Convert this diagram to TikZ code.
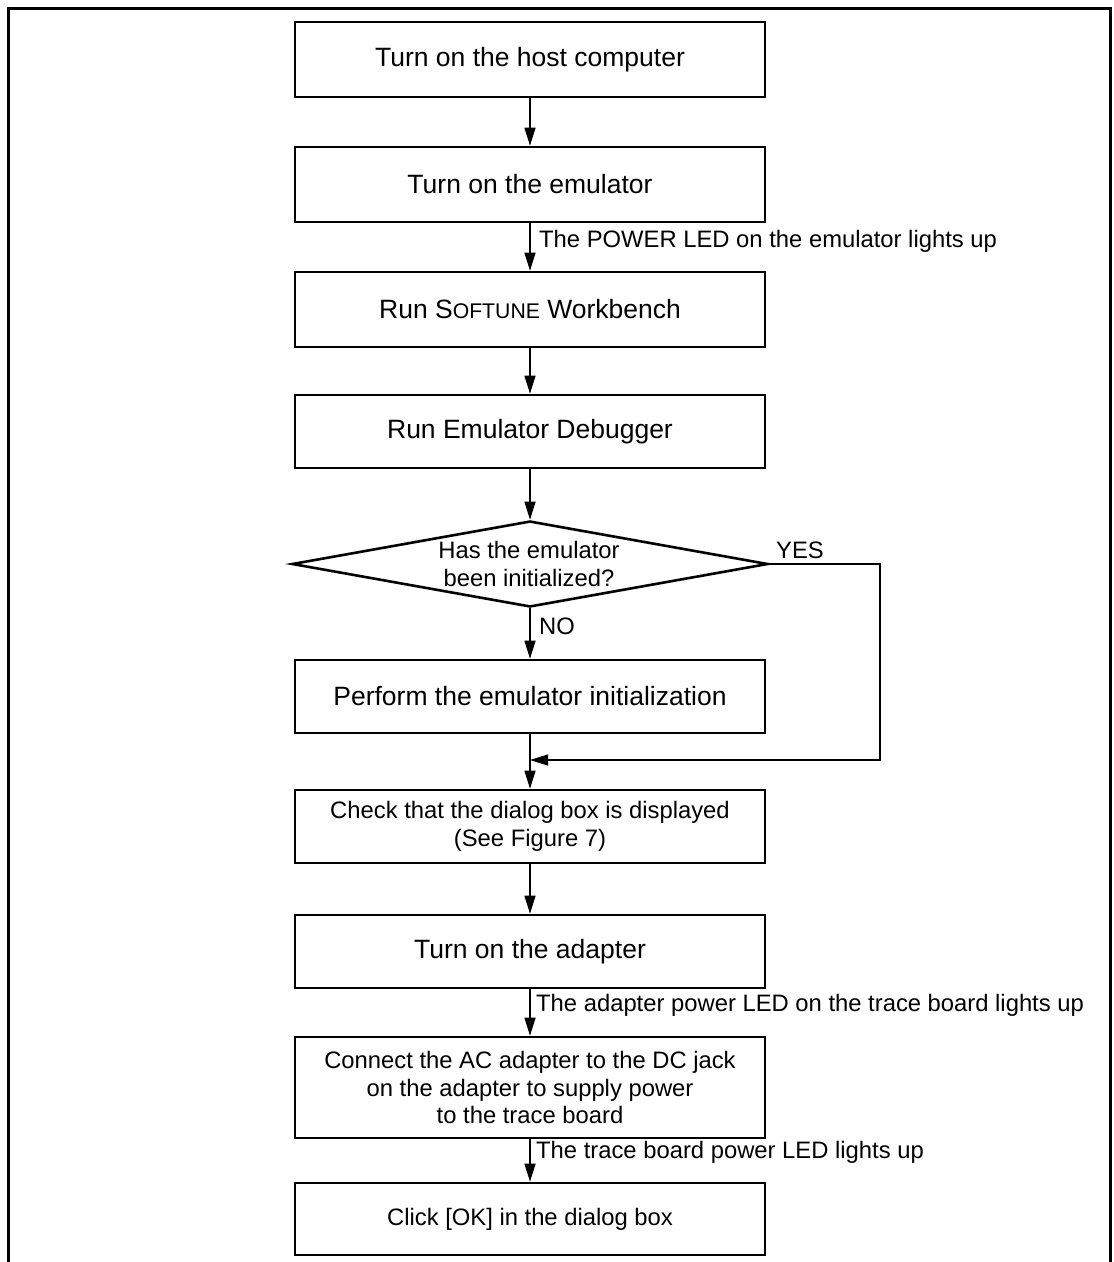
\documentclass[tikz,border=0pt]{standalone}
\usepackage{fontspec}
\setmainfont{Liberation Sans}
\usetikzlibrary{arrows.meta,shapes.geometric}
\newcommand{\myfs}{\fontsize{23.8}{27.5}\selectfont}
\newcommand{\mybigfs}{\fontsize{26.5}{30}\selectfont}
\begin{document}
\begin{tikzpicture}[x=1pt,y=-1pt,
  box/.style={draw,line width=2.6pt,minimum width=470pt,minimum height=75pt,inner sep=0pt,align=center,font=\myfs},
  bigbox/.style={box,font=\mybigfs},
  dec/.style={draw,line width=2.6pt,shape=diamond,minimum width=476pt,minimum height=86pt,inner sep=0pt},
  txt/.style={inner sep=0pt,align=center,font=\myfs},
  conn/.style={line width=1.2pt},
  arr/.style={conn,-{Triangle[length=18pt,width=11pt]}},
  frame/.style={line width=3pt}
]
\useasboundingbox (0,0) rectangle (1114,1262);
\draw[frame] (8,1262) -- (8,8) -- (1110,8) -- (1110,1262);

\node[bigbox] (b1) at (530,59.5) {Turn on the host computer};
\node[bigbox] (b2) at (530,184.5) {Turn on the emulator};
\node[bigbox] (b3) at (530,309.5) {Run S{\fontsize{21.2}{21.2}\selectfont OFTUNE} Workbench};
\node[bigbox,minimum height=73pt] (b4) at (530,431.5) {Run Emulator Debugger};
\node[dec] (dia) at (530,564) {};
\node[txt] (diat) at (529,564) {Has the emulator\\been initialized?};
\node[bigbox,minimum height=73pt] (b5) at (530,696.5) {Perform the emulator initialization};
\node[box,minimum height=73pt] (b6) at (530,826.5) {Check that the dialog box is displayed\\(See Figure 7)};
\node[bigbox,minimum height=73pt] (b7) at (530,951.5) {Turn on the adapter};
\node[box,minimum height=101pt] (b8) at (530,1087.5) {Connect the AC adapter to the DC jack\\on the adapter to supply power\\to the trace board};
\node[box,minimum height=72pt] (b9) at (530,1219) {Click [OK] in the dialog box};

\coordinate (m) at (530,760);
\coordinate (yr) at (880,564);

\draw[arr] (b1.south) -- (b2.north);
\draw[arr] (b2.south) -- (b3.north);
\draw[arr] (b3.south) -- (b4.north);
\draw[arr] (b4.south) -- (dia.north);
\draw[arr] (dia.south) -- (b5.north);
\draw[arr] (b5.south) -- (b6.north);
\draw[arr] (dia.east) -- (yr) |- (m);
\draw[arr] (b6.south) -- (b7.north);
\draw[arr] (b7.south) -- (b8.north);
\draw[arr] (b8.south) -- (b9.north);

\node[txt,anchor=west] (l1) at (539,241) {The POWER LED on the emulator lights up};
\node[txt] (yes) at (800,550) {YES};
\node[txt] (no) at (557,626) {NO};
\node[txt,anchor=west] (l2) at (536,1005) {The adapter power LED on the trace board lights up};
\node[txt,anchor=west] (l3) at (536,1152) {The trace board power LED lights up};
\end{tikzpicture}
\end{document}
